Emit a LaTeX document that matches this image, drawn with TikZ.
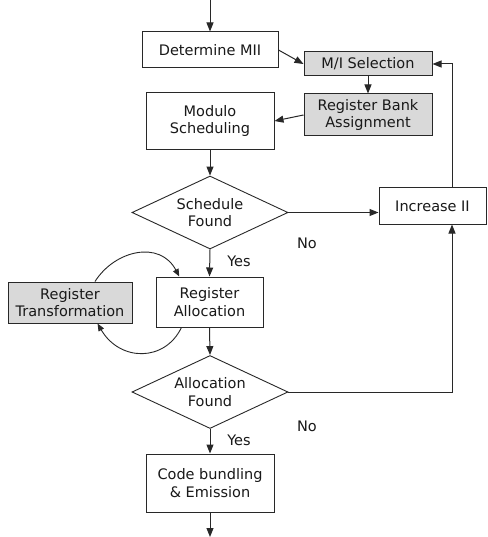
\documentclass[tikz,border=0pt]{standalone}
\usepackage{fontspec}
\setmainfont{DejaVu Sans}
\usetikzlibrary{shapes.geometric,arrows.meta,calc}
\definecolor{boxgray}{RGB}{217,217,217}
\definecolor{linec}{RGB}{40,40,40}
\tikzset{
  every node/.style={font=\fontsize{14.5}{17.7}\selectfont, text=black!90},
  box/.style={draw=linec, line width=1pt, rectangle, inner sep=0pt, align=center, fill=white},
  graybox/.style={box, fill=boxgray},
  decision/.style={draw=linec, line width=0.9pt, diamond, aspect=2.14, inner sep=0pt, align=center, minimum width=156pt, minimum height=73pt},
  conn/.style={draw=linec, line width=1pt, -{Triangle[length=9pt,width=7pt]}},
  curv/.style={draw=linec, line width=0.9pt, -{Triangle[length=7.5pt,width=6pt]}},
  lbl/.style={inner sep=0pt}
}
\begin{document}
\begin{tikzpicture}[x=1pt,y=-1pt]
\useasboundingbox[fill=white] (0,0) rectangle (487,537);
\coordinate (top) at (210,0);
\coordinate (bot) at (210,537);
\coordinate (rx) at (452,0);
\node[box, minimum width=136pt, minimum height=36pt] (dmii) at (210,50) {Determine MII};
\node[graybox, minimum width=128pt, minimum height=24pt] (mis) at (368,64) {M/I Selection};
\node[graybox, minimum width=128pt, minimum height=42pt] (rba) at (368,115) {Register Bank\\Assignment};
\node[box, minimum width=128pt, minimum height=57pt] (ms) at (210,121) {Modulo\\Scheduling};
\node[decision] (sf) at (210,212.5) {Schedule\\Found};
\node[box, minimum width=107pt, minimum height=36pt] (ii) at (432.5,206) {Increase II};
\node[box, minimum width=107pt, minimum height=50pt] (ra) at (209.5,302) {Register\\Allocation};
\node[graybox, minimum width=124pt, minimum height=41pt] (rt) at (70,302.5) {Register\\Transformation};
\node[decision] (af) at (210,392) {Allocation\\Found};
\node[box, minimum width=128pt, minimum height=58pt] (cb) at (210,483) {Code bundling\\\& Emission};
\node[lbl] (no1) at (307,243) {No};
\node[lbl] (yes1) at (239,261) {Yes};
\node[lbl] (no2) at (307,426) {No};
\node[lbl] (yes2) at (239,440) {Yes};
% connectors
\draw[conn] (top) -- (dmii.north);
\draw[conn] (dmii.east) -- (mis.west);
\draw[conn] (mis.south) -- (rba.north);
\draw[conn] (rba.west) -- (ms.east);
\draw[conn] (ms.south) -- (sf.north);
\draw[conn] (sf.east) -- (sf.east -| ii.west);
\draw[conn] (rx |- ii.north) -- (rx |- mis.east) -- (mis.east);
\draw[conn] (af.east) -| (rx |- ii.south);
\draw[conn] (sf.south) -- (ra.north);
\draw[conn] (ra.south) -- (af.north);
\draw[conn] (af.south) -- (cb.north);
\draw[conn] (cb.south) -- (bot);
\draw[curv] ($(rt.north west)!0.7!(rt.north east)$) .. controls (115,250) and (160,240) .. ($(ra.north west)!0.22!(ra.north east)$);
\draw[curv] ($(ra.south west)!0.24!(ra.south east)$) .. controls (165,362) and (120,362) .. ($(rt.south west)!0.72!(rt.south east)$);
\end{tikzpicture}
\end{document}
